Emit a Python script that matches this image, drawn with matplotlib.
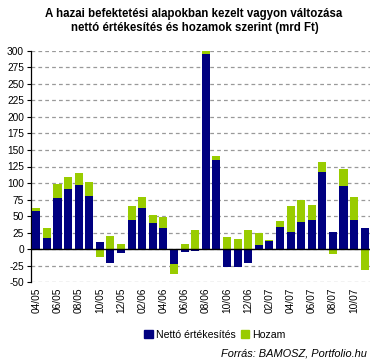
import matplotlib
matplotlib.use("Agg")
import matplotlib.pyplot as plt
from matplotlib.patches import Patch
import numpy as np

plt.rcParams['font.family'] = ['Liberation Sans', 'DejaVu Sans']

months = ["04/05", "05/05", "06/05", "07/05", "08/05", "09/05", "10/05", "11/05", "12/05",
          "01/06", "02/06", "03/06", "04/06", "05/06", "06/06", "07/06", "08/06", "09/06",
          "10/06", "11/06", "12/06", "01/07", "02/07", "03/07", "04/07", "05/07", "06/07",
          "07/07", "08/07", "09/07", "10/07", "11/07"]
netto = [58, 17, 77, 91, 97, 81, 11, -21, -5.5, 44, 62, 40, 32, -22, -4, -2.5,
         295, 135, -26.5, -26.5, -20.5, 6.5, 12.5, 33.5, 26, 41, 44, 117, 26, 95.5, 44, 32]
hozam = [4.5, 15, 21.5, 18, 18, 21, -11.5, 20, 8, 21, 17, 12, 17, -15, 8, 29,
         4.5, 6, 18.5, 15.5, 29, 18, 1.5, 9, 39, 33, 23, 15, -7, 25.5, 35, -31]
yticks = list(range(-50, 301, 25))

fig = plt.figure(figsize=(3.76, 3.63), dpi=100)
ax = fig.add_axes([31/376, 1 - 282.3/363, (370-31)/376, (282.3-50.7)/363])

x = np.arange(len(months))
netto_a = np.array(netto, dtype=float)
hozam_a = np.array(hozam, dtype=float)
pos_base = np.where(netto_a > 0, netto_a, 0)
neg_base = np.where(netto_a < 0, netto_a, 0)
hoz_bottom = np.where(hozam_a >= 0, pos_base, neg_base)

navy = "#000080"
green = "#99CC00"
w = 0.76
ax.bar(x, netto_a, width=w, color=navy, zorder=3)
ax.bar(x, hozam_a, width=w, bottom=hoz_bottom, color=green, zorder=3)

ax.set_xlim(-0.5, len(months) - 0.5)
ax.set_ylim(-50, 300)
ax.set_yticks(yticks)
ax.set_yticklabels([str(t) for t in yticks], fontsize=7.3)
ax.yaxis.grid(True, linestyle=(0, (3, 2.5)), color="#999999", linewidth=0.9, zorder=0)
ax.axhline(0, color="black", linewidth=1.0, zorder=4)

ax.set_xticks(x[::2])
ax.set_xticklabels(months[::2], rotation=90, fontsize=7.3)
ax.tick_params(axis='x', length=0, pad=4)
ax.tick_params(axis='y', length=3, width=0.8, pad=2)

for s in ["top", "right", "bottom"]:
    ax.spines[s].set_visible(False)
ax.spines["left"].set_linewidth(0.9)

fig.text(194/376, 1 - 14/363, "A hazai befektetési alapokban kezelt vagyon változása",
         ha="center", va="center", fontsize=8.3, fontweight="bold")
fig.text(195/376, 1 - 27.5/363, "nettó értékesítés és hozamok szerint (mrd Ft)",
         ha="center", va="center", fontsize=8.3, fontweight="bold")

handles = [Patch(color=navy, label="Nettó értékesítés"), Patch(color=green, label="Hozam")]
fig.legend(handles=handles, loc="center", bbox_to_anchor=(215/376, 1 - 335/363), ncol=2,
           frameon=False, fontsize=7.6, handlelength=0.8, handleheight=0.8,
           handletextpad=0.3, columnspacing=0.5, borderaxespad=0)

fig.text(367/376, 1 - 353/363, "Forrás: BAMOSZ, Portfolio.hu", ha="right", va="center",
         fontsize=7.9, style="italic")

fig.savefig("out.png", dpi=100)
